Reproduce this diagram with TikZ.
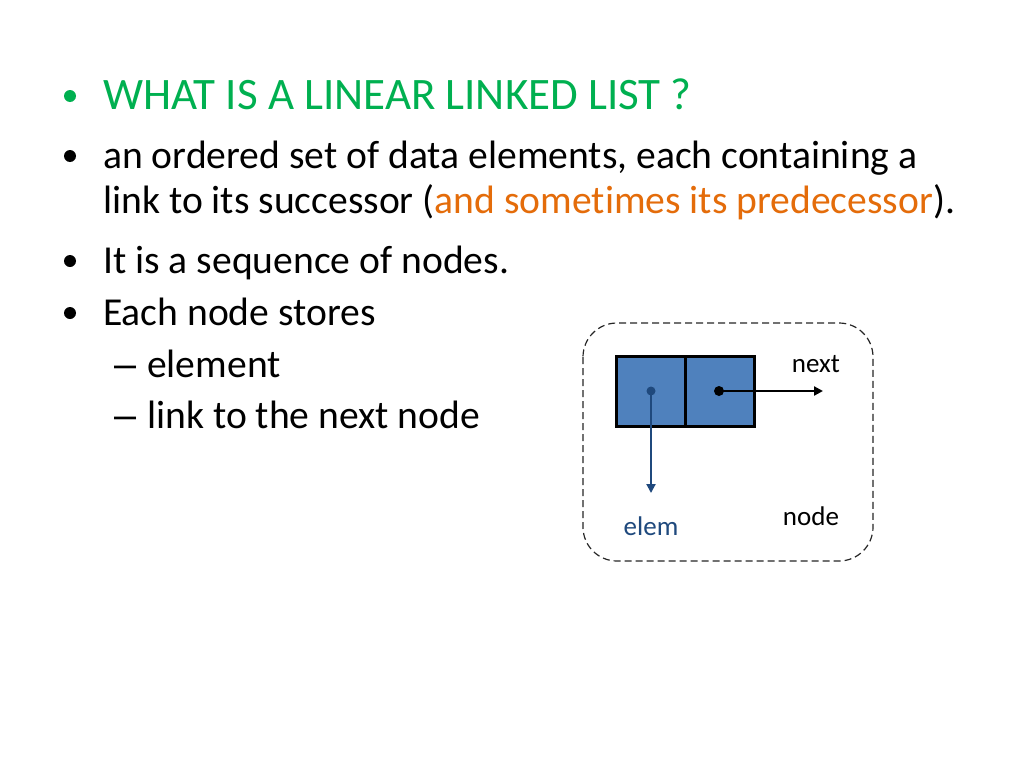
\documentclass[tikz,border=0pt]{standalone}
\usepackage{fontspec}
\setmainfont[Ligatures=NoCommon]{Carlito}
\newfontfamily\dashfont{Liberation Sans}
\usetikzlibrary{arrows.meta}
\definecolor{titlegreen}{RGB}{0,176,80}
\definecolor{orng}{RGB}{228,108,10}
\definecolor{cellblue}{RGB}{79,129,189}
\definecolor{darkblue}{RGB}{31,73,125}
\tikzset{
  txt/.style={anchor=base west, inner sep=0pt, font=\fontsize{39.6}{45}\selectfont},
  dsh/.style={anchor=base west, inner sep=0pt, font=\dashfont\fontsize{39.6}{45}\selectfont},
  ttl/.style={anchor=base west, inner sep=0pt, font=\fontsize{45}{50}\selectfont, text=titlegreen},
  bul/.style={circle, inner sep=0pt, minimum size=12pt},
  small/.style={anchor=base, inner sep=0pt, font=\fontsize{27}{32}\selectfont},
  cell/.style={draw=black, line width=3pt, fill=cellblue, minimum width=69pt, minimum height=70pt, inner sep=0pt},
  frame/.style={draw=black!85, dash pattern=on 7pt off 4pt, line width=1.2pt, rounded corners=34pt}
}
\begin{document}
\begin{tikzpicture}[x=1pt,y=-1pt]
\useasboundingbox (0,0) rectangle (1024,768);
\fill[white] (0,0) rectangle (1024,768);
% text
\node[bul, fill=titlegreen] (b0) at (70,96) {};
\node[ttl] (t0) at (103,109) {WHAT IS A LINEAR LINKED LIST ?};
\node[bul, fill=black] (b1) at (70,156) {};
\node[txt] (t1) at (103,168) {an ordered set of data elements, each containing a};
\node[txt] (t2) at (103,213) {link to its successor (\textcolor{orng}{and sometimes its predecessor}).};
\node[bul, fill=black] (b2) at (70,261) {};
\node[txt] (t3) at (103,273) {It is a sequence of nodes.};
\node[bul, fill=black] (b3) at (70,313) {};
\node[txt] (t4) at (103,325) {Each node stores};
\node[dsh] (d1) at (114,377) {–};
\node[txt] (t5) at (147,377) {element};
\node[dsh] (d2) at (114,428) {–};
\node[txt] (t6) at (147,428) {link to the next node};
% diagram
\draw[frame] (583,323) rectangle (873,561);
\node[cell] (c1) at (650.5,391) {};
\node[cell] (c2) at (719.5,391) {};
\coordinate (p1) at (651,391);
\coordinate (p2) at (719,391);
\coordinate (e1) at (651,493);
\coordinate (e2) at (823,391);
\fill[darkblue] (p1) circle (4.5pt);
\fill[black] (p2) circle (5pt);
\draw[darkblue, line width=2pt, -{Triangle[length=9pt,width=9pt]}] (p1) -- (e1);
\draw[black, line width=2.2pt, -{Triangle[length=9pt,width=9pt]}] (p2) -- (e2);
\node[small] (nx) at (816,372) {next};
\node[small] (nd) at (811,525) {node};
\node[small, text=darkblue] (el) at (651,535) {elem};
\end{tikzpicture}
\end{document}
